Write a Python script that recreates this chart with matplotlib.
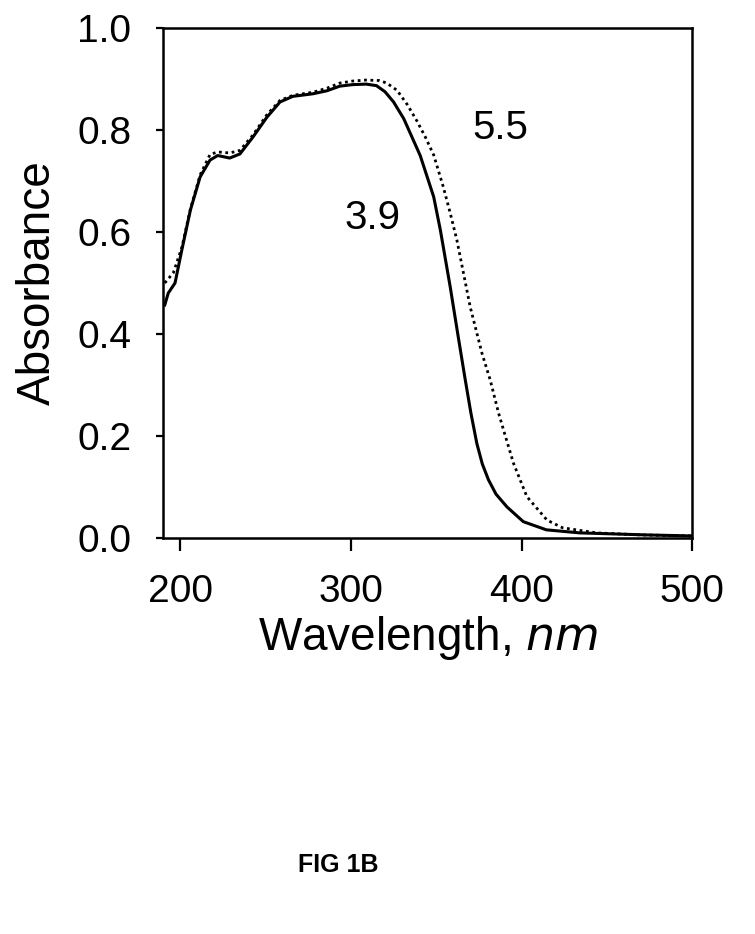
import matplotlib
matplotlib.use("Agg")
import matplotlib.pyplot as plt

plt.rcParams["font.family"] = ["Liberation Sans", "DejaVu Sans"]

# pH 3.9 (solid)
wl_39 = [191, 193, 197, 201, 206, 211.7, 217.5, 222, 229, 235, 242.6, 250.8, 258.5,
         266, 277.7, 286, 293.5, 301, 309, 315, 320, 325, 331, 340.6, 348.5,
         352.4, 358.2, 362.9, 367, 370.3, 373.8, 377, 380.6, 385, 391.4, 401, 414.5,
         434, 473, 500]
abs_39 = [0.457, 0.48, 0.50, 0.565, 0.643, 0.708, 0.741, 0.75, 0.745, 0.753, 0.786,
          0.825, 0.855, 0.866, 0.871, 0.877, 0.886, 0.889, 0.890, 0.887, 0.875, 0.855,
          0.822, 0.750, 0.669, 0.604, 0.492, 0.394, 0.31, 0.245, 0.185, 0.145, 0.114,
          0.086, 0.061, 0.032, 0.016, 0.01, 0.006, 0.004]

# pH 5.5 (dotted)
wl_55 = [191, 196, 201, 206, 211.7, 217.5, 222, 229, 235, 242.6, 250.8, 258.5, 266,
         277.7, 286, 293.5, 301, 309, 316.7, 321, 327, 333, 338.8, 343.5, 348.5, 354,
         358.2, 362.1, 369.9, 376.8, 381.6, 386.5, 389.4, 395.3, 403.1, 414.9, 424,
         444, 470, 500]
abs_55 = [0.50, 0.52, 0.57, 0.645, 0.712, 0.752, 0.757, 0.755, 0.76, 0.79, 0.83,
          0.858, 0.868, 0.874, 0.882, 0.892, 0.896, 0.898, 0.897, 0.892, 0.878, 0.85,
          0.817, 0.787, 0.751, 0.69, 0.637, 0.584, 0.453, 0.362, 0.31, 0.245, 0.212,
          0.146, 0.081, 0.035, 0.02, 0.01, 0.006, 0.004]

xticks = [200, 300, 400, 500]
yticks = [0.0, 0.2, 0.4, 0.6, 0.8, 1.0]

fig = plt.figure(figsize=(7.55, 9.34), dpi=100)
ax = fig.add_axes([0.216, 0.424, 0.701, 0.546])

ax.plot(wl_39, abs_39, color="black", lw=2.2, solid_joinstyle="round")
ax.plot(wl_55, abs_55, color="black", lw=2.0, linestyle=(0, (1, 1.3)))

ax.set_xlim(190, 500)
ax.set_ylim(0, 1.0)
ax.set_xticks(xticks)
ax.set_yticks(yticks)
ax.set_yticklabels([f"{v:.1f}" for v in yticks])
for s in ax.spines.values():
    s.set_linewidth(1.8)
ax.tick_params(axis="x", direction="out", length=9, width=1.6, pad=17, labelsize=28)
ax.tick_params(axis="y", direction="out", length=5, width=1.6, pad=18, labelsize=28)

ax.set_xlabel("Wavelength, $\\it{nm}$", fontsize=33, labelpad=3)
ax.set_ylabel("Absorbance", fontsize=33, labelpad=12)

ax.text(387.5, 0.804, "5.5", fontsize=29, ha="center", va="center")
ax.text(312.5, 0.627, "3.9", fontsize=29, ha="center", va="center")

fig.text(0.448, 0.074, "FIG 1B", fontsize=18, fontweight="bold", ha="center", va="center")

fig.savefig("out.png", dpi=100)
